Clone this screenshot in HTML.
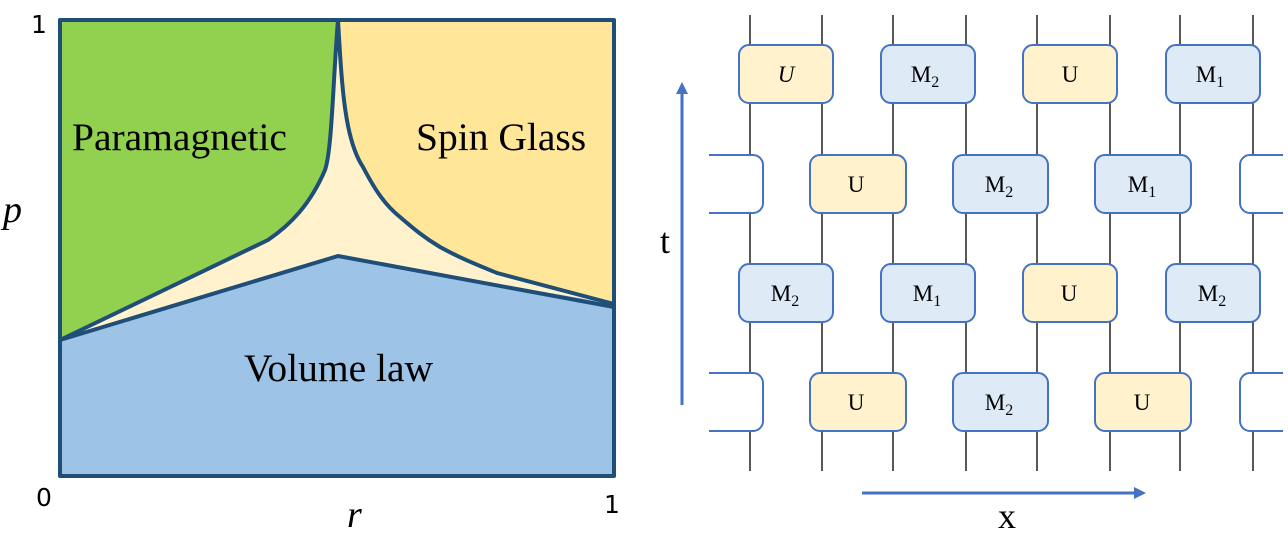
<!DOCTYPE html>
<html><head><meta charset="utf-8"><style>
html,body{margin:0;padding:0;background:#fff;}
svg{display:block;}
</style></head><body>
<svg width="1288" height="536" viewBox="0 0 1288 536" xmlns="http://www.w3.org/2000/svg">
<defs>
<clipPath id="cr"><rect x="709" y="0" width="574" height="536"/></clipPath>
</defs>
<!-- phase diagram -->
<rect x="60" y="20" width="554" height="456" fill="#9dc3e6"/>
<path d="M60,20 L338,20 C333,80 332,150 325,170 C310,205 290,225 268,240 L60,340 Z" fill="#92d050"/>
<path d="M338,20 L614,20 L614,304 L497,273 C475,264 460,258 440,247 C425,238 415,230 400,217 C385,205 375,190 363,167 C345,140 342,90 338,20 Z" fill="#ffe699"/>
<path d="M60,340 L268,240 C290,225 310,205 325,170 C332,150 333,80 338,20 C342,90 345,140 363,167 C375,190 385,205 400,217 C415,230 425,238 440,247 C460,258 475,264 497,273 L614,304 L338,256 Z" fill="#fff2cc"/>
<g fill="none" stroke="#1f4e79" stroke-width="4" stroke-linejoin="round">
<path d="M60,340 L268,240 C290,225 310,205 325,170 C332,150 333,80 338,20 C342,90 345,140 363,167 C375,190 385,205 400,217 C415,230 425,238 440,247 C460,258 475,264 497,273 L614,304"/>
<path d="M60,340 L338,256 L614,307"/>
<rect x="60" y="20" width="554" height="456"/>
</g>
<g font-family="Liberation Serif, serif" font-size="39.5" fill="#000">
<text x="72" y="150">Paramagnetic</text>
<text x="416" y="150">Spin Glass</text>
<text x="244" y="381">Volume law</text>
<text x="3" y="222" font-style="italic" font-size="38">p</text>
<text x="347" y="527" font-style="italic" font-size="38">r</text>
</g>
<g font-family="DejaVu Sans, sans-serif" font-size="25" fill="#000">
<text x="31" y="33">1</text>
<text x="36" y="506">0</text>
<text x="604" y="513">1</text>
</g>
<!-- circuit -->
<g stroke="#222" stroke-width="1.5">
<line x1="750" y1="15" x2="750" y2="471"/><line x1="822" y1="15" x2="822" y2="471"/>
<line x1="893" y1="15" x2="893" y2="471"/><line x1="966" y1="15" x2="966" y2="471"/>
<line x1="1037" y1="15" x2="1037" y2="471"/><line x1="1110" y1="15" x2="1110" y2="471"/>
<line x1="1180" y1="15" x2="1180" y2="471"/><line x1="1253" y1="15" x2="1253" y2="471"/>
</g>
<g clip-path="url(#cr)" stroke="#4472c4" stroke-width="2">
<rect x="739" y="45" width="94" height="58" rx="10" fill="#fff2cc"/>
<rect x="881" y="45" width="94" height="58" rx="10" fill="#deebf7"/>
<rect x="1023" y="45" width="94" height="58" rx="10" fill="#fff2cc"/>
<rect x="1166" y="45" width="94" height="58" rx="10" fill="#deebf7"/>
<rect x="660" y="155" width="103" height="58" rx="10" fill="#fff"/>
<rect x="810" y="155" width="96" height="58" rx="10" fill="#fff2cc"/>
<rect x="953" y="155" width="95" height="58" rx="10" fill="#deebf7"/>
<rect x="1095" y="155" width="96" height="58" rx="10" fill="#deebf7"/>
<rect x="1240" y="155" width="100" height="58" rx="10" fill="#fff"/>
<rect x="739" y="264" width="94" height="58" rx="10" fill="#deebf7"/>
<rect x="881" y="264" width="94" height="58" rx="10" fill="#deebf7"/>
<rect x="1023" y="264" width="94" height="58" rx="10" fill="#fff2cc"/>
<rect x="1166" y="264" width="94" height="58" rx="10" fill="#deebf7"/>
<rect x="660" y="373" width="103" height="58" rx="10" fill="#fff"/>
<rect x="810" y="373" width="96" height="58" rx="10" fill="#fff2cc"/>
<rect x="953" y="373" width="95" height="58" rx="10" fill="#deebf7"/>
<rect x="1095" y="373" width="96" height="58" rx="10" fill="#fff2cc"/>
<rect x="1240" y="373" width="100" height="58" rx="10" fill="#fff"/>
</g>
<g font-family="Liberation Serif, serif" font-size="23" fill="#000" text-anchor="middle">
<text x="786" y="82" font-style="italic">U</text>
<text x="925" y="82">M<tspan font-size="16" dy="5">2</tspan></text>
<text x="1070" y="82">U</text>
<text x="1210" y="82">M<tspan font-size="16" dy="5">1</tspan></text>
<text x="856" y="192">U</text>
<text x="999" y="192">M<tspan font-size="16" dy="5">2</tspan></text>
<text x="1142" y="192">M<tspan font-size="16" dy="5">1</tspan></text>
<text x="785" y="301">M<tspan font-size="16" dy="5">2</tspan></text>
<text x="927" y="301">M<tspan font-size="16" dy="5">1</tspan></text>
<text x="1069" y="301">U</text>
<text x="1212" y="301">M<tspan font-size="16" dy="5">2</tspan></text>
<text x="856" y="410">U</text>
<text x="999" y="410">M<tspan font-size="16" dy="5">2</tspan></text>
<text x="1142" y="410">U</text>
</g>
<g stroke="#4472c4" stroke-width="3" fill="#4472c4">
<line x1="682" y1="405" x2="682" y2="92"/>
<line x1="862" y1="493" x2="1136" y2="493"/>
</g>
<polygon points="682,82 676,94 688,94" fill="#4472c4"/>
<polygon points="1146,493 1134,487 1134,499" fill="#4472c4"/>
<g font-family="Liberation Serif, serif" font-size="36" fill="#000">
<text x="660" y="253">t</text>
<text x="998" y="528">x</text>
</g>
</svg>
</body></html>
